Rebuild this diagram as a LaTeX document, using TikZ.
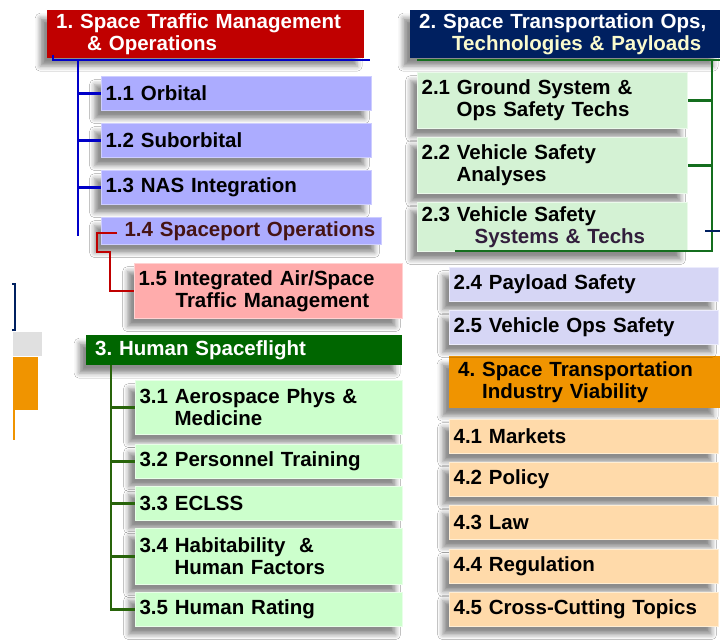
\documentclass[tikz,border=0pt]{standalone}
\usepackage{fontspec}
\setmainfont{Liberation Sans}
\usetikzlibrary{shadows.blur}
\definecolor{hred}{RGB}{192,0,0}
\definecolor{hnavy}{RGB}{0,32,96}
\definecolor{hgreen}{RGB}{0,102,0}
\definecolor{horange}{RGB}{240,148,0}
\definecolor{hyel}{RGB}{250,250,205}
\definecolor{lav}{RGB}{172,172,255}
\definecolor{lavb}{RGB}{205,205,255}
\definecolor{lav2}{RGB}{214,214,245}
\definecolor{lav2b}{RGB}{236,236,252}
\definecolor{pink}{RGB}{255,172,172}
\definecolor{pinkb}{RGB}{255,210,210}
\definecolor{grn2}{RGB}{212,242,212}
\definecolor{grn2b}{RGB}{235,250,235}
\definecolor{grn3}{RGB}{204,255,204}
\definecolor{grn3b}{RGB}{232,255,232}
\definecolor{peach}{RGB}{255,218,170}
\definecolor{peachb}{RGB}{255,238,212}
\definecolor{cblue}{RGB}{0,0,200}
\definecolor{cgreen}{RGB}{40,100,10}
\definecolor{cgreen2}{RGB}{20,110,30}
\definecolor{maroon}{RGB}{70,20,20}
\definecolor{dkpurp}{RGB}{50,30,60}
\begin{document}
\frenchspacing
\begin{tikzpicture}[x=1pt,y=-1pt,
  every node/.style={font=\fontsize{20.5}{22}\selectfont\bfseries\frenchspacing},
  shd/.style={blur shadow={shadow xshift=-7pt,shadow yshift=-8pt,shadow blur radius=5pt,shadow opacity=45}},
  hdr/.style={anchor=north west,inner xsep=9pt,inner ysep=0pt,align=left,shd},
  kid/.style={anchor=north west,inner xsep=4pt,inner ysep=0pt,align=left,text=black,line width=1.2pt,shd},
  k1/.style={kid,fill=lav,draw=lavb,text width=262pt,minimum height=34pt},
  k2/.style={kid,fill=grn2,draw=grn2b,text width=262pt,minimum height=56pt},
  k2b/.style={kid,fill=lav2,draw=lav2b,text width=261pt,minimum height=34pt},
  k3/.style={kid,fill=grn3,draw=grn3b,text width=259pt,minimum height=34pt},
  k4/.style={kid,fill=peach,draw=peachb,text width=261pt,minimum height=34pt},
  bl/.style={draw=cblue,line width=2.5pt},
  gl/.style={draw=cgreen,line width=2.5pt},
  gl2/.style={draw=cgreen2,line width=2.5pt},
  rl/.style={draw=hred,line width=2.5pt},
]
\useasboundingbox[fill=white] (0,0) rectangle (720,642);

% left-edge remnants
\draw[hnavy,line width=2pt] (12,284) -- (15,284) -- (15,330) -- (12,330);
\fill[black!12] (13,332) rectangle (42,356);
\fill[horange] (13,357) rectangle (38,410);
\draw[horange,line width=2pt] (14,410) -- (14,440);

% headers
\node[hdr,fill=hred,text=white,text width=299pt,minimum height=48pt] (h1) at (47,10)
  {1. Space Traffic Management\\\hspace*{31pt}\& Operations};
\node[hdr,fill=hnavy,text=white,text width=292pt,minimum height=48pt] (h2) at (410,10)
  {2. Space Transportation Ops,\\\hspace*{33pt}{\color{hyel}Technologies \& Payloads}};
\node[hdr,fill=hgreen,text=white,text width=298pt,minimum height=30pt] (h3) at (86,335)
  {3. Human Spaceflight};
\node[hdr,fill=horange,text=black,text width=253pt,minimum height=52pt] (h4) at (449,356)
  {4. Space Transportation\\\hspace*{24pt}Industry Viability};

% column 1
\node[k1] (n11) at (101,76) {1.1 Orbital};
\node[k1] (n12) at (101,123) {1.2 Suborbital};
\node[k1] (n13) at (101,170) {1.3 NAS Integration};
\node[k1,text width=272pt,minimum height=27pt,text=maroon] (n14) at (101,217) {\hspace*{19pt}1.4 Spaceport Operations};
\node[kid,fill=pink,draw=pinkb,text width=260pt,minimum height=55pt] (n15) at (134,263)
  {1.5 Integrated Air/Space\\\hspace*{37pt}Traffic Management};

% column 2
\node[k2] (n21) at (417,72) {2.1 Ground System \&\\\hspace*{35pt}Ops Safety Techs};
\node[k2] (n22) at (417,137) {2.2 Vehicle Safety\\\hspace*{35pt}Analyses};
\node[k2,minimum height=49pt] (n23) at (417,202) {2.3 Vehicle Safety\\\hspace*{53pt}{\color{dkpurp}Systems \& Techs}};
\node[k2b] (n24) at (449,267) {2.4 Payload Safety};
\node[k2b] (n25) at (449,310) {2.5 Vehicle Ops Safety};

% column 3
\node[k3,minimum height=54pt] (n31) at (135,380) {3.1 Aerospace Phys \&\\\hspace*{35pt}Medicine};
\node[k3] (n32) at (135,444) {3.2 Personnel Training};
\node[k3] (n33) at (135,486) {3.3 ECLSS};
\node[k3,minimum height=56pt] (n34) at (135,528) {3.4 Habitability \ \&\\\hspace*{35pt}Human Factors};
\node[k3] (n35) at (135,592) {3.5 Human Rating};

% column 4
\node[k4] (n41) at (449,419) {4.1 Markets};
\node[k4] (n42) at (449,462) {4.2 Policy};
\node[k4] (n43) at (449,505) {4.3 Law};
\node[k4] (n44) at (449,549) {4.4 Regulation};
\node[k4] (n45) at (449,592) {4.5 Cross-Cutting Topics};

% connectors: area 1
\coordinate (bL) at (53,55);
\coordinate (bR) at (370,60);
\draw[bl,line width=2pt] (bL) |- (bR);
\coordinate (b0) at (78,60);
\coordinate (b1) at (78,236);
\draw[bl] (b0) -- (b1);
\draw[bl] (b0 |- n11.west) -- (n11.west);
\draw[bl] (b0 |- n12.west) -- (n12.west);
\draw[bl] (b0 |- n13.west) -- (n13.west);
\coordinate (r0) at (117,233);
\coordinate (r1) at (97,233);
\coordinate (r2) at (97,252);
\coordinate (r3) at (110,252);
\draw[rl] (r0) -- (r1) -- (r2) -- (r3) |- (n15.west);

% connectors: area 2
\coordinate (gT) at (417,60);
\coordinate (gE) at (720,60);
\draw[gl2,line width=2pt] (gT) -- (gE);
\coordinate (g0) at (712,60);
\coordinate (g1) at (712,251);
\coordinate (g2) at (455,251);
\draw[gl2] (g0) -- (g1) -- (g2);
\draw[gl2] (g0 |- n21.east) -- (n21.east);
\draw[gl2] (g0 |- n22.east) -- (n22.east);
\coordinate (nv0) at (705,231);
\coordinate (nv1) at (720,231);
\draw[hnavy,line width=2pt] (nv0) -- (nv1);

% connectors: area 3
\coordinate (t0) at (111,365);
\draw[gl] (t0) |- (n35.west);
\draw[gl] (t0 |- n31.west) -- (n31.west);
\draw[gl] (t0 |- n32.west) -- (n32.west);
\draw[gl] (t0 |- n33.west) -- (n33.west);
\draw[gl] (t0 |- n34.west) -- (n34.west);
\end{tikzpicture}
\end{document}
